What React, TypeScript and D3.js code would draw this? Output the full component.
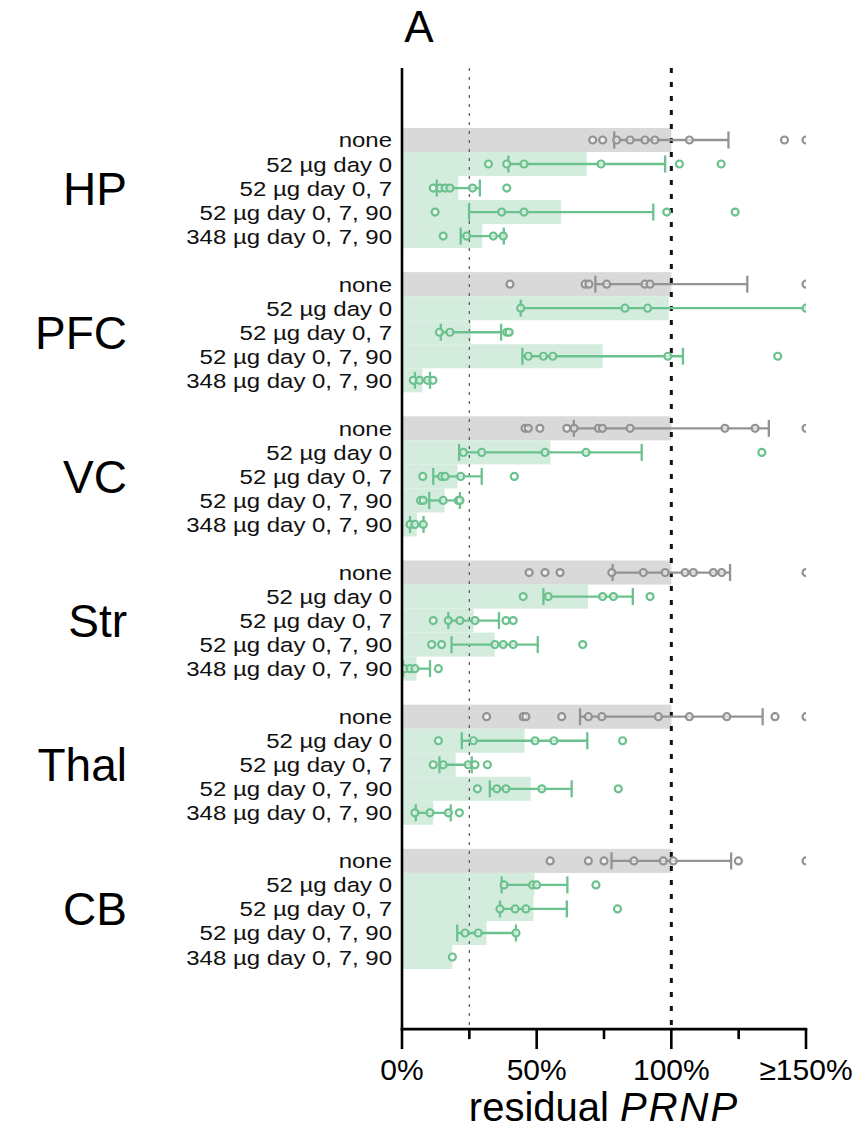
import React from "react";
import * as d3 from "d3";

// Brain regions and dosing regimens (rows within each region block)
const regions = ["HP", "PFC", "VC", "Str", "Thal", "CB"];
const treatments = [
  "none",
  "52 µg day 0",
  "52 µg day 0, 7",
  "52 µg day 0, 7, 90",
  "348 µg day 0, 7, 90",
];

// Axis ticks (% residual PRNP)
const majorTicks = [0, 50, 100, 150];
const minorTicks = [25, 75, 125];
const tickLabels = ["0%", "50%", "100%", "≥150%"];
const refLines = [25, 100];

// Group means (% of untreated), one value per treatment
const hpMean = [100, 68.6, 20.9, 59.1, 29.8];
const pfcMean = [100, 99, 25.6, 74.5, 7.6];
const vcMean = [100, 55.1, 20.6, 15.8, 5.5];
const strMean = [100, 69.1, 26.6, 34.4, 5.4];
const thalMean = [100, 45.5, 19.9, 47.8, 11.6];
const cbMean = [100, 49.2, 48.8, 31.4, 18.7];

// Error bar half-widths (0 = single animal, no bar)
const hpErr = [21.2, 29.1, 8, 34.2, 8];
const pfcErr = [28.2, 54.9, 11.2, 29.8, 2.8];
const vcErr = [36.2, 33.9, 9, 5.7, 2.5];
const strErr = [21.8, 16.6, 9.4, 16, 5];
const thalErr = [33.9, 23.3, 6, 15.2, 6.5];
const cbErr = [22.2, 12.2, 12.4, 10.9, 0];

// Individual animals (values ≥150 are pinned at the axis limit)
const hpPoints = [
  [70.8, 74.5, 79.7, 84.7, 90.2, 93.9, 106.7, 142, 150],
  [32.1, 38.9, 45.3, 73.9, 103, 118.5],
  [11.6, 14.1, 16, 17.8, 26.2, 38.9],
  [12.3, 37, 45.3, 98.3, 123.7],
  [15.3, 24, 33.9, 37.6],
];
const pfcPoints = [
  [40.1, 68, 69.4, 76, 90.2, 92.1, 150],
  [44.1, 82.8, 91.2, 150],
  [13.9, 17.8, 38.9, 39.8],
  [46.9, 52.5, 56, 98.7, 139.5],
  [4.2, 6.5, 9.5, 11.5],
];
const vcPoints = [
  [45.7, 46.9, 51.2, 61.2, 63.9, 72.9, 74.4, 84.7, 119.9, 131.1, 150],
  [22.8, 29.6, 53.1, 68.3, 133.6],
  [7.7, 14.7, 16, 21.8, 41.7],
  [6.9, 7.9, 15.3, 20.9, 21.5],
  [3, 4.8, 7.9],
];
const strPoints = [
  [47.2, 53.1, 58.7, 77.9, 89.6, 97.7, 105.1, 108.2, 115.6, 118.7, 150],
  [45, 54.3, 74.5, 78.5, 92.1],
  [11.6, 17.2, 21.5, 27.1, 38.6, 41.3],
  [11, 14.7, 34.5, 37.6, 41.3, 67.1],
  [1.1, 3, 4.8, 13.5],
];
const thalPoints = [
  [31.4, 45, 46, 59.3, 69.2, 74.2, 95.2, 106.7, 120.6, 138.5, 150],
  [13.5, 26.5, 49.4, 56.4, 81.9],
  [11.6, 15.3, 24.6, 27.1, 31.7],
  [28, 35.2, 38.6, 51.9, 80.3],
  [4.8, 10.4, 17.2, 21.3],
];
const cbPoints = [
  [55, 69.2, 75, 86.1, 97, 100.7, 124.9, 150],
  [37.9, 48.5, 50, 72],
  [36.4, 42, 46, 80],
  [23.4, 28.3, 42.3],
  [18.7],
];

const regionMeans = [hpMean, pfcMean, vcMean, strMean, thalMean, cbMean];
const regionErrs = [hpErr, pfcErr, vcErr, strErr, thalErr, cbErr];
const regionPoints = [hpPoints, pfcPoints, vcPoints, strPoints, thalPoints, cbPoints];

const W = 856;
const H = 1128;
const FONT = "'Liberation Sans', Arial, Helvetica, sans-serif";

const GRAY_FILL = "#d9d9d9";
const GRAY_LINE = "#939393";
const GREEN_FILL = "#d3ecdd";
const GREEN_LINE = "#6cc28e";

const ROWS_PER_GROUP = treatments.length + 1;

export default function App() {
  const x = d3.scaleLinear().domain([0, 150]).range([402, 806]);
  // row index -> vertical centre
  const y = d3.scaleLinear().domain([-3, 37]).range([67.9, 1029.1]);
  const rowH = y(1) - y(0);
  const axisY = y(37);
  const topY = y(-3);
  const capH = 8.5;

  const rows: any[] = [];
  regions.forEach((reg, g) => {
    treatments.forEach((t, i) => {
      rows.push({
        region: reg,
        g,
        i,
        label: t,
        r: g * ROWS_PER_GROUP + i,
        mean: regionMeans[g][i],
        err: regionErrs[g][i],
        pts: regionPoints[g][i],
      });
    });
  });

  return (
    <svg
      width={W}
      height={H}
      style={{ position: "absolute", left: 0, top: 0, background: "#fff" }}
      fontFamily={FONT}
    >
      <defs>
        <clipPath id="plotClip">
          <rect x={x(0)} y={topY} width={x(150) - x(0)} height={axisY - topY} />
        </clipPath>
      </defs>

      {/* panel letter */}
      <text x={419} y={42} fontSize={44} textAnchor="middle" fill="#000">
        A
      </text>

      {/* mean bars */}
      <g>
        {rows.map((d, k) => (
          <rect
            key={"b" + k}
            x={x(0)}
            y={y(d.r) - rowH / 2}
            width={x(Math.min(d.mean, 150)) - x(0)}
            height={rowH}
            fill={d.i === 0 ? GRAY_FILL : GREEN_FILL}
          />
        ))}
      </g>

      {/* reference lines at 25% and 100% */}
      <line
        x1={x(refLines[0])}
        x2={x(refLines[0])}
        y1={topY}
        y2={axisY}
        stroke="#555"
        strokeWidth={1.2}
        strokeDasharray="3,6"
      />
      <line
        x1={x(refLines[1])}
        x2={x(refLines[1])}
        y1={topY}
        y2={axisY}
        stroke="#111"
        strokeWidth={3}
        strokeDasharray="5,9"
      />

      {/* error bars and individual animals */}
      <g clipPath="url(#plotClip)">
        {rows.map((d, k) => {
          const c = d.i === 0 ? GRAY_LINE : GREEN_LINE;
          const cy = y(d.r);
          const lo = d.mean - d.err;
          const hi = d.mean + d.err;
          return (
            <g key={"e" + k}>
              {d.err > 0 && (
                <g stroke={c} strokeWidth={2.3}>
                  <line x1={x(lo)} x2={x(hi)} y1={cy} y2={cy} />
                  <line x1={x(lo)} x2={x(lo)} y1={cy - capH} y2={cy + capH} />
                  <line x1={x(hi)} x2={x(hi)} y1={cy - capH} y2={cy + capH} />
                </g>
              )}
              {d.pts.map((p: number, j: number) => (
                <circle
                  key={j}
                  cx={x(Math.min(p, 150))}
                  cy={cy}
                  r={3.5}
                  fill="#fff"
                  fillOpacity={0.6}
                  stroke={c}
                  strokeWidth={2.2}
                />
              ))}
            </g>
          );
        })}
      </g>

      {/* row labels (slightly wide-set type) */}
      <g fontSize={20.5} textAnchor="end" fill="#111">
        {rows.map((d, k) => (
          <text
            key={"l" + k}
            transform={`translate(392,${y(d.r) + 7.5}) scale(1.17,1)`}
          >
            {d.label}
          </text>
        ))}
      </g>

      {/* region labels */}
      <g fontSize={46} textAnchor="end" fill="#000">
        {regions.map((reg, g) => (
          <text key={reg} x={127} y={y(g * ROWS_PER_GROUP + 2) + 16.5}>
            {reg}
          </text>
        ))}
      </g>

      {/* axes */}
      <line x1={x(0)} x2={x(0)} y1={topY} y2={axisY + 1.2} stroke="#000" strokeWidth={2.6} />
      <line x1={x(0) - 1.3} x2={x(150) + 1.3} y1={axisY} y2={axisY} stroke="#000" strokeWidth={2.6} />
      {majorTicks.map((t) => (
        <line key={"M" + t} x1={x(t)} x2={x(t)} y1={axisY} y2={axisY + 20} stroke="#000" strokeWidth={2.6} />
      ))}
      {minorTicks.map((t) => (
        <line key={"m" + t} x1={x(t)} x2={x(t)} y1={axisY} y2={axisY + 10} stroke="#000" strokeWidth={2.6} />
      ))}
      <g fontSize={30} textAnchor="middle" fill="#000">
        {majorTicks.map((t, k) => (
          <text key={"t" + t} x={x(t)} y={1080}>
            {tickLabels[k]}
          </text>
        ))}
      </g>
      <text x={(x(0) + x(150)) / 2} y={1121} fontSize={40} textAnchor="middle" fill="#000">
        residual{" "}
        <tspan fontStyle="italic" letterSpacing={2}>
          PRNP
        </tspan>
      </text>
    </svg>
  );
}
